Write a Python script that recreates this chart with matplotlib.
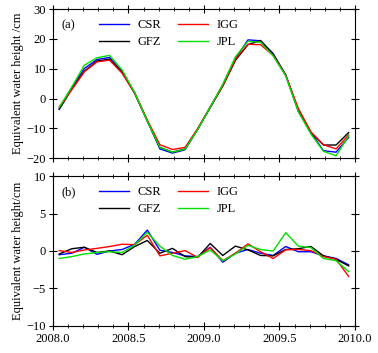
import numpy as np
import matplotlib
matplotlib.use('Agg')
import matplotlib.pyplot as plt
from matplotlib.ticker import MultipleLocator

plt.rcParams['font.family'] = ['Liberation Serif', 'DejaVu Serif']
plt.rcParams['font.size'] = 9

# monthly mid-points, Jan 2008 .. Dec 2009
t = 2008 + (np.arange(24) + 0.5) / 12

# (a) equivalent water height, cm
csr_a = [-3.5, 3.7, 10.1, 13.1, 13.8, 9.0, 1.9, -7.5, -16.9, -18.3, -17.2, -10.3,
         -2.9, 4.6, 13.4, 19.7, 19.4, 15.1, 7.9, -4.2, -11.4, -17.5, -18.0, -13.0]
gfz_a = [-3.6, 3.2, 9.2, 12.6, 13.2, 8.8, 1.7, -7.5, -16.4, -18.0, -16.9, -10.3,
         -3.0, 4.2, 12.8, 18.1, 19.5, 14.8, 7.9, -4.0, -11.4, -15.6, -15.6, -11.4]
igg_a = [-2.8, 3.0, 9.0, 12.3, 12.9, 8.5, 1.9, -7.2, -15.5, -17.1, -16.4, -10.1,
         -2.8, 4.4, 13.2, 18.2, 18.1, 14.5, 7.8, -3.3, -11.2, -15.5, -16.9, -12.2]
jpl_a = [-3.0, 3.9, 11.2, 13.7, 14.5, 9.6, 2.0, -7.6, -16.4, -18.0, -17.0, -10.4,
         -2.9, 4.8, 14.0, 19.2, 18.9, 14.3, 7.6, -4.4, -11.9, -17.7, -19.2, -12.5]

# (b) residuals, cm
csr_b = [-0.5, -0.3, 0.5, -0.45, 0.0, 0.2, 0.9, 2.8, 0.1, -0.2, -0.65, -0.75,
         0.5, -1.5, -0.3, 0.2, -0.3, -0.6, 0.6, -0.1, -0.1, -0.65, -1.0, -1.85]
gfz_b = [-0.4, 0.3, 0.5, -0.2, 0.0, -0.5, 0.6, 1.4, -0.3, 0.35, -0.75, -0.85,
         1.0, -0.6, 0.65, 0.15, -0.6, -0.65, 0.2, 0.3, 0.6, -0.65, -1.1, -2.0]
igg_b = [0.05, -0.2, 0.13, 0.35, 0.6, 0.9, 0.85, 2.1, -0.65, -0.3, 0.05, -0.85,
         0.45, -1.3, -0.3, 0.95, -0.1, -1.0, 0.15, 0.2, 0.05, -0.75, -1.1, -3.4]
jpl_b = [-1.0, -0.75, -0.4, -0.2, -0.1, -0.2, 0.8, 2.5, 0.65, -0.6, -1.1, -0.75,
         0.13, -1.3, -0.4, 0.75, 0.2, 0.0, 2.45, 0.65, 0.45, -1.0, -1.3, -2.75]

names = ['CSR', 'GFZ', 'IGG', 'JPL']
colors = ['#0000ff', '#000000', '#ff0000', '#00e000']

fig = plt.figure(figsize=(3.78, 3.53), dpi=100)
ax1 = fig.add_axes([0.140, 0.552, 0.799, 0.422])
ax2 = fig.add_axes([0.140, 0.077, 0.799, 0.424])

def style(ax, ylim, ystep, label, tag, series):
    for y, n, c in zip(series, names, colors):
        ax.plot(t, y, color=c, lw=1.0, label=n)
    ax.set_xlim(2008.0, 2010.0)
    ax.set_ylim(*ylim)
    ax.xaxis.set_major_locator(MultipleLocator(0.5))
    ax.xaxis.set_minor_locator(MultipleLocator(0.1))
    ax.yaxis.set_major_locator(MultipleLocator(ystep))
    ax.tick_params(which='both', direction='inout', top=True, right=True, pad=2)
    ax.tick_params(which='major', length=6)
    ax.tick_params(which='minor', length=3.5)
    ax.set_ylabel(label, labelpad=2)
    ax.text(0.03, 0.93, tag, transform=ax.transAxes, va='top', ha='left')
    ax.legend(ncol=2, loc='upper left', bbox_to_anchor=(0.115, 1.01), frameon=False,
              handlelength=2.4, handletextpad=0.7, columnspacing=1.3,
              labelspacing=0.4)

style(ax1, (-20, 30), 10, 'Equivalent water height /cm', '(a)', [csr_a, gfz_a, igg_a, jpl_a])
style(ax2, (-10, 10), 5, 'Equivalent water height/cm', '(b)', [csr_b, gfz_b, igg_b, jpl_b])
ax1.tick_params(labelbottom=False)
ax2.xaxis.set_major_formatter(plt.FormatStrFormatter('%.1f'))

fig.savefig('out.png', dpi=100)
